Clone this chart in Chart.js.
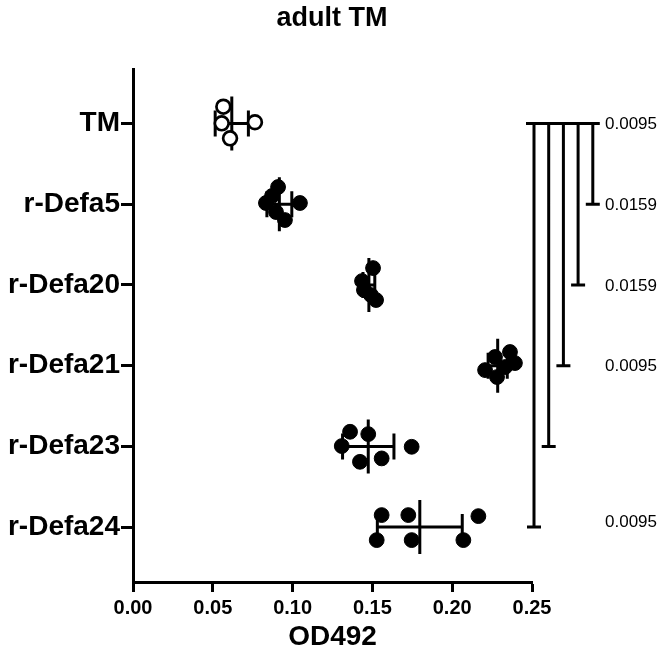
<!DOCTYPE html>
<html><head><meta charset="utf-8">
<script src="https://cdn.jsdelivr.net/npm/chart.js@4"></script>
<style>html,body{margin:0;padding:0;background:#fff}#wrap{width:666px;height:654px}</style>
</head><body><div id="wrap"><canvas id="c" width="666" height="654"></canvas></div>
<script>
const chartTitle = 'adult TM';
const xAxisTitle = 'OD492';
const categories = ['TM', 'r-Defa5', 'r-Defa20', 'r-Defa21', 'r-Defa23', 'r-Defa24'];
const xTickValues = [0, 0.05, 0.10, 0.15, 0.20, 0.25];

// individual OD492 values per group, with vertical scatter offsets (category units)
const tmValues     = [0.0566, 0.0556, 0.0608, 0.0764];
const tmJitter     = [-0.208, -0.002, 0.184, -0.015];
const defa5Values  = [0.0909, 0.0833, 0.0871, 0.0896, 0.0952, 0.1046];
const defa5Jitter  = [-0.213, -0.015, -0.102, 0.097, 0.196, -0.015];
const defa20Values = [0.1504, 0.1435, 0.1447, 0.1491, 0.1523];
const defa20Jitter = [-0.209, -0.048, 0.063, 0.125, 0.187];
const defa21Values = [0.2362, 0.2268, 0.2393, 0.2206, 0.2281, 0.2331];
const defa21Jitter = [-0.169, -0.107, -0.032, 0.055, 0.141, 0.017];
const defa23Values = [0.1360, 0.1474, 0.1308, 0.1422, 0.1558, 0.1746];
const defa23Jitter = [-0.181, -0.152, -0.004, 0.191, 0.149, 0.005];
const defa24Values = [0.1558, 0.1725, 0.2164, 0.1527, 0.1746, 0.2070];
const defa24Jitter = [-0.149, -0.149, -0.136, 0.161, 0.161, 0.161];

// mean and SD per group
const groupMeans = [0.0619, 0.0917, 0.1478, 0.2285, 0.1474, 0.1797];
const groupSD    = [0.0104, 0.0078, 0.0037, 0.0060, 0.0161, 0.0266];

// comparisons TM vs group (bracket ends), and p-value labels with their rows
const bracketTargets = [5, 4, 3, 2, 1];
const pValueLabels = ['0.0095', '0.0159', '0.0159', '0.0095', '0.0095'];
const pValueRows   = [0, 1, 2, 3, 5];

const groupValues = [tmValues, defa5Values, defa20Values, defa21Values, defa23Values, defa24Values];
const groupJitter = [tmJitter, defa5Jitter, defa20Jitter, defa21Jitter, defa23Jitter, defa24Jitter];

const FONT = "'Liberation Sans', Arial, Helvetica, sans-serif";

const datasets = groupValues.map((vals, g) => ({
  label: categories[g],
  data: vals.map((v, i) => ({ x: v, y: g + groupJitter[g][i] })),
  pointRadius: g === 0 ? 6.9 : 7.4,
  pointBorderWidth: g === 0 ? 2.7 : 1,
  pointBackgroundColor: g === 0 ? '#fff' : '#000',
  pointBorderColor: '#000',
  pointHoverRadius: 7,
  showLine: false
}));

const annot = {
  id: 'annot',
  beforeDatasetsDraw(chart) {
    const ctx = chart.ctx, xs = chart.scales.x, ys = chart.scales.y;
    ctx.save();
    ctx.strokeStyle = '#000';
    ctx.lineWidth = 3;
    ctx.lineCap = 'butt';
    groupMeans.forEach((m, g) => {
      const y = ys.getPixelForValue(g);
      const xm = xs.getPixelForValue(m);
      const xl = xs.getPixelForValue(m - groupSD[g]);
      const xr = xs.getPixelForValue(m + groupSD[g]);
      ctx.beginPath();
      ctx.moveTo(xl, y); ctx.lineTo(xr, y);
      ctx.moveTo(xm, y - 27); ctx.lineTo(xm, y + 27);
      ctx.moveTo(xl, y - 13); ctx.lineTo(xl, y + 13);
      ctx.moveTo(xr, y - 13); ctx.lineTo(xr, y + 13);
      ctx.stroke();
    });
    ctx.restore();
  },
  afterDraw(chart) {
    const ctx = chart.ctx, ys = chart.scales.y, area = chart.chartArea;
    ctx.save();
    ctx.strokeStyle = '#000';
    ctx.lineWidth = 3;
    const yTop = ys.getPixelForValue(0);
    const bx = bracketTargets.map((t, i) => area.right + 2 + i * 14.7);
    ctx.beginPath();
    ctx.moveTo(bx[0] - 8, yTop); ctx.lineTo(bx[bx.length - 1] + 7, yTop);
    bracketTargets.forEach((t, i) => {
      const yb = ys.getPixelForValue(t);
      ctx.moveTo(bx[i], yTop); ctx.lineTo(bx[i], yb);
      ctx.moveTo(bx[i] - 7, yb); ctx.lineTo(bx[i] + 7, yb);
    });
    ctx.stroke();
    ctx.fillStyle = '#000';
    ctx.font = '17px ' + FONT;
    ctx.textAlign = 'left';
    ctx.textBaseline = 'middle';
    pValueLabels.forEach((lab, i) => {
      const row = pValueRows[i];
      const y = ys.getPixelForValue(row) + (row === 5 ? -5 : 1);
      ctx.fillText(lab, area.right + 73, y);
    });
    ctx.font = 'bold 27px ' + FONT;
    ctx.textAlign = 'center';
    ctx.fillText(chartTitle, 332, 19);
    ctx.restore();
  }
};

new Chart(document.getElementById('c'), {
  type: 'scatter',
  data: { datasets },
  options: {
    responsive: false,
    devicePixelRatio: 1,
    animation: false,
    layout: { padding: { top: 69, right: 134, left: 0, bottom: 0 } },
    plugins: { legend: { display: false }, tooltip: { enabled: false }, title: { display: false } },
    scales: {
      x: {
        type: 'linear', min: 0, max: 0.25,
        afterFit(s) { s.height = 72; },
        afterBuildTicks(s) { s.ticks = xTickValues.map(v => ({ value: v })); },
        ticks: {
          color: '#000', font: { family: FONT, size: 20, weight: 'bold' },
          padding: 4, maxRotation: 0, autoSkip: false,
          callback: v => Number(v).toFixed(2)
        },
        grid: { display: true, drawOnChartArea: false, drawTicks: true, tickLength: 10, tickWidth: 3, tickColor: '#000' },
        border: { display: true, color: '#000', width: 3 },
        title: { display: true, text: xAxisTitle, color: '#000', font: { family: FONT, size: 28, weight: 'bold' }, padding: { top: 0, bottom: 0 } }
      },
      y: {
        type: 'linear', reverse: true, min: -0.675, max: 5.68,
        afterFit(s) { s.width = 133; },
        afterBuildTicks(s) { s.ticks = categories.map((c, i) => ({ value: i })); },
        ticks: {
          color: '#000', font: { family: FONT, size: 28, weight: 'bold' },
          padding: 1, autoSkip: false,
          callback: v => categories[Math.round(v)]
        },
        grid: { display: true, drawOnChartArea: false, drawTicks: true, tickLength: 12, tickWidth: 3, tickColor: '#000' },
        border: { display: true, color: '#000', width: 3 }
      }
    }
  },
  plugins: [annot]
});
</script>
</body></html>
